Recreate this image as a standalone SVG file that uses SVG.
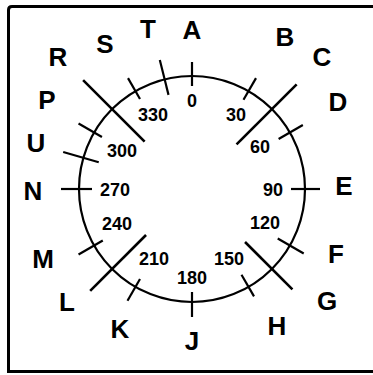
<svg xmlns="http://www.w3.org/2000/svg" width="373" height="375" viewBox="0 0 373 375">
<style>
.frame{fill:none;stroke:#000;stroke-width:3}
.ring{fill:none;stroke:#000;stroke-width:2.2}
.tick{stroke:#000;stroke-width:2.2;stroke-linecap:butt}
.long{stroke:#000;stroke-width:2.6}
.let{font-family:"Liberation Sans",Arial,sans-serif;font-weight:bold;font-size:26px;text-anchor:middle;fill:#000}
.num{font-family:"Liberation Sans",Arial,sans-serif;font-weight:bold;font-size:18px;text-anchor:middle;fill:#000}
</style>
<rect width="373" height="375" fill="#fff"/>
<path class="frame" d="M380,6.5 H12 Q8.5,6.5 8.5,10 V371.5 H380"/>
<g id="dial">
<circle class="ring" cx="192" cy="189" r="113"/>
</g>
<g id="connectors">
<g class="tick">
<line x1="192" y1="86" x2="192" y2="62" transform="rotate(0 192 189)"/>
<line x1="192" y1="86" x2="192" y2="61" transform="rotate(30 192 189)"/>
<line x1="192" y1="89" x2="192" y2="61" transform="rotate(60 192 189)"/>
<line x1="192" y1="90" x2="192" y2="61" transform="rotate(90 192 189)"/>
<line x1="192" y1="90" x2="192" y2="60" transform="rotate(120 192 189)"/>
<line x1="192" y1="90" x2="192" y2="65" transform="rotate(150 192 189)"/>
<line x1="192" y1="86" x2="192" y2="61" transform="rotate(180 192 189)"/>
<line x1="192" y1="85" x2="192" y2="60" transform="rotate(210 192 189)"/>
<line x1="192" y1="86" x2="192" y2="58" transform="rotate(240 192 189)"/>
<line x1="192" y1="89" x2="192" y2="58" transform="rotate(270 192 189)"/>
<line x1="192" y1="85" x2="192" y2="58" transform="rotate(300 192 189)"/>
<line x1="192" y1="85" x2="192" y2="61" transform="rotate(330 192 189)"/>
<line x1="192" y1="92" x2="192" y2="55" transform="rotate(286 192 189)"/>
<line x1="192" y1="92" x2="192" y2="56" transform="rotate(346 192 189)"/>
</g>
<g class="long">
<line x1="192" y1="126" x2="192" y2="41" transform="rotate(45 192 189)"/>
<line x1="192" y1="114" x2="192" y2="47" transform="rotate(135 192 189)"/>
<line x1="192" y1="124" x2="192" y2="45" transform="rotate(225 192 189)"/>
<line x1="192" y1="122" x2="192" y2="35" transform="rotate(315 192 189)"/>
</g>
</g>
<g id="letters">
<text id="A" class="let" x="192" y="39">A</text>
<text id="B" class="let" x="285" y="46">B</text>
<text id="C" class="let" x="322" y="66">C</text>
<text id="D" class="let" x="338" y="111">D</text>
<text id="E" class="let" x="344" y="195">E</text>
<text id="F" class="let" x="336" y="263">F</text>
<text id="G" class="let" x="327" y="310">G</text>
<text id="H" class="let" x="277" y="335">H</text>
<text id="J" class="let" x="192" y="350">J</text>
<text id="K" class="let" x="120" y="338">K</text>
<text id="L" class="let" x="67" y="311">L</text>
<text id="M" class="let" x="43" y="268">M</text>
<text id="N" class="let" x="33" y="200">N</text>
<text id="U" class="let" x="36" y="152">U</text>
<text id="P" class="let" x="47" y="109">P</text>
<text id="R" class="let" x="58" y="66">R</text>
<text id="S" class="let" x="105" y="53">S</text>
<text id="T" class="let" x="148" y="38">T</text>
</g>
<g id="numbers">
<text class="num" x="192" y="107">0</text>
<text class="num" x="236" y="121">30</text>
<text class="num" x="260" y="153">60</text>
<text class="num" x="273" y="196">90</text>
<text class="num" x="265" y="229">120</text>
<text class="num" x="229" y="265">150</text>
<text class="num" x="192" y="284">180</text>
<text class="num" x="154" y="265">210</text>
<text class="num" x="117" y="230">240</text>
<text class="num" x="115" y="196">270</text>
<text class="num" x="122" y="157">300</text>
<text class="num" x="153" y="121">330</text>
</g>
</svg>
